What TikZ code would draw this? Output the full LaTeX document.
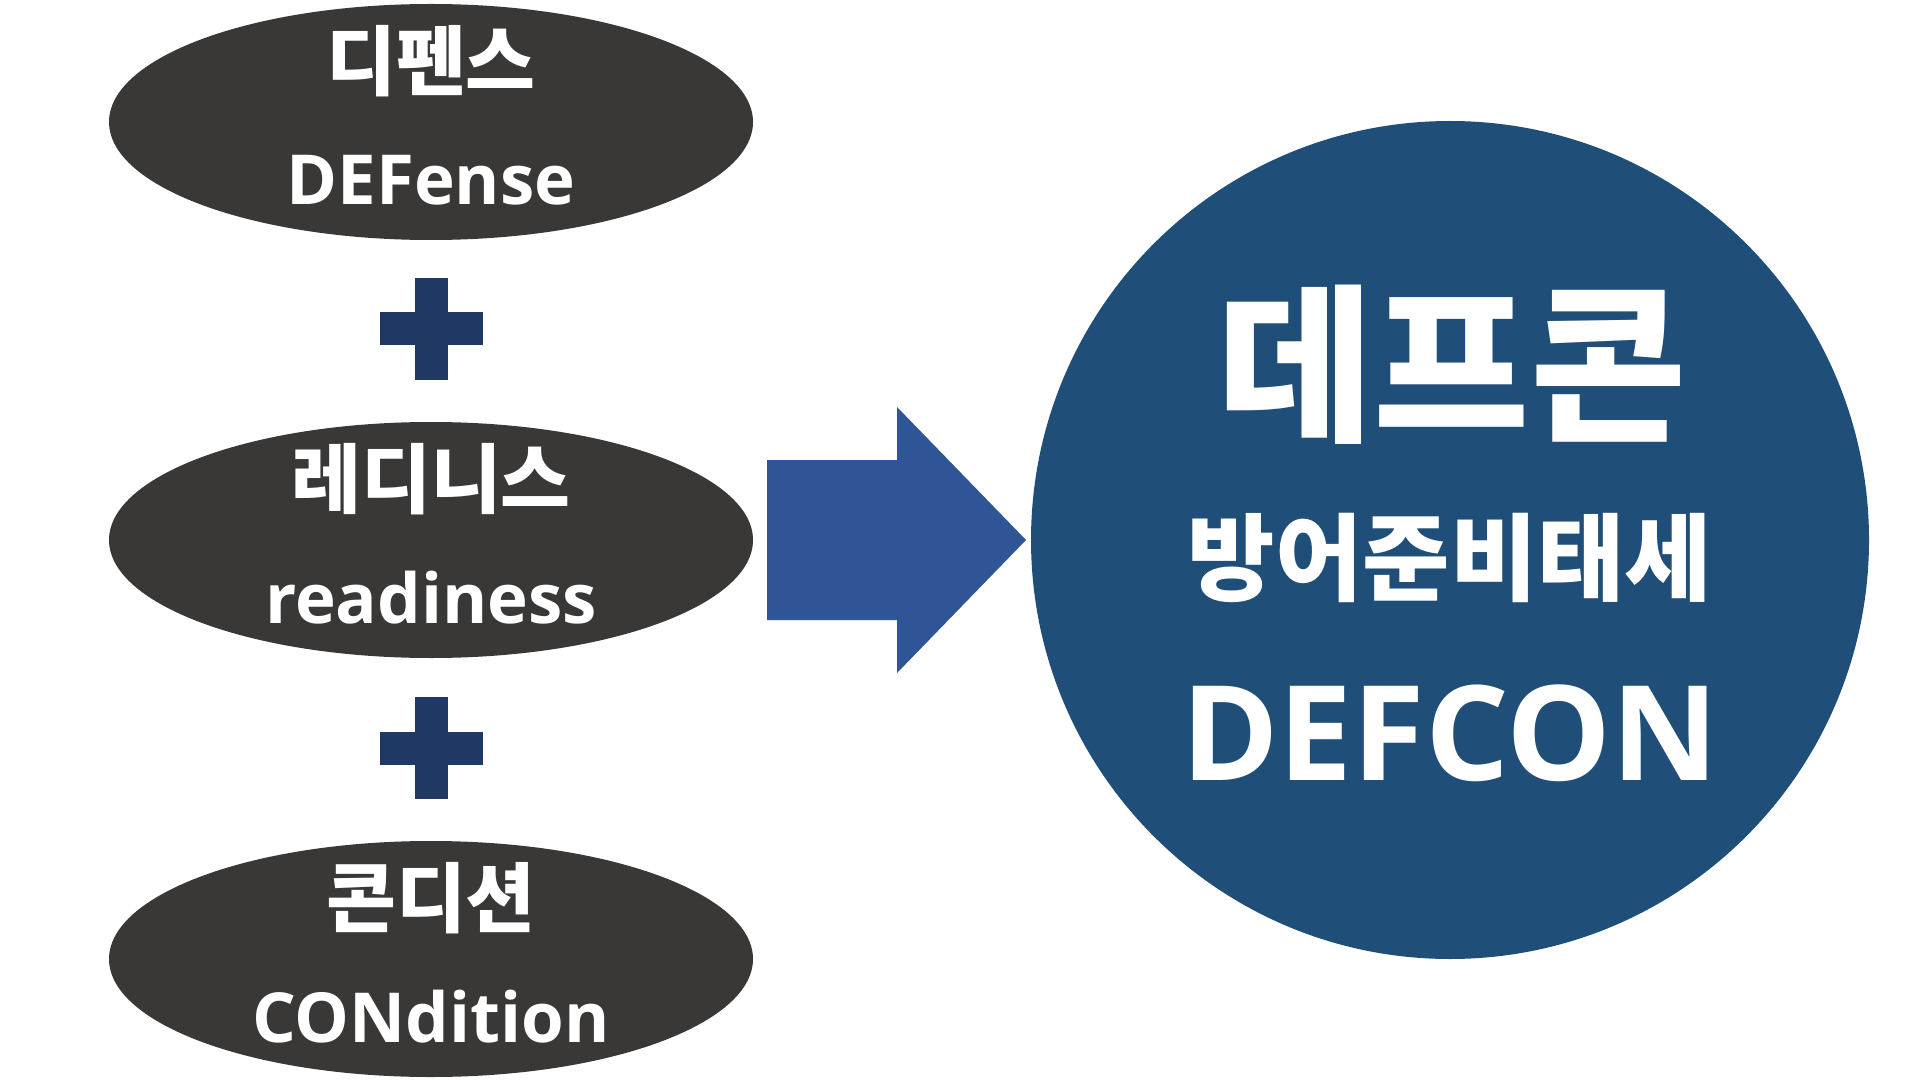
\documentclass[tikz,border=0pt]{standalone}
\usepackage{fontspec}
\setmainfont{Open Sans}
\newfontfamily\kor{Noto Sans CJK KR}
\usetikzlibrary{shapes.geometric,positioning}
\definecolor{ovalgray}{HTML}{3A3836}
\definecolor{plusblue}{HTML}{1F3864}
\definecolor{arrowblue}{HTML}{2F5597}
\definecolor{circleblue}{HTML}{1F4E79}

\begin{document}
\begin{tikzpicture}[x=0.5pt,y=-0.5pt,
  oval/.style={ellipse,fill=ovalgray,minimum width=322pt,minimum height=118pt,inner sep=0pt},
  kor/.style={text=white,font=\kor\bfseries\fontsize{38}{40}\selectfont,inner sep=0pt},
  eng/.style={text=white,font=\bfseries\fontsize{34.5}{40}\selectfont,inner sep=0pt,anchor=base}]
  \useasboundingbox (0,0) rectangle (1920,1080);
  \node[oval] (defense) at (431,122) {};
  \node[oval] (readiness) at (431,540) {};
  \node[oval] (condition) at (431,959) {};
  \node[kor] (defenseK) at ([yshift=30.5pt]defense.center) {디펜스};
  \node[eng] (defenseE) at ([yshift=-41.5pt]defense.center) {DEFense};
  \node[kor] (readinessK) at ([yshift=30.5pt]readiness.center) {레디니스};
  \node[eng] (readinessE) at ([yshift=-41.5pt]readiness.center) {readiness};
  \node[kor] (conditionK) at ([yshift=30.5pt]condition.center) {콘디션};
  \node[eng] (conditionE) at ([yshift=-41.5pt]condition.center) {CONdition};
  \foreach \y in {329,748} {
    \fill[plusblue] (414.5,\y-51) rectangle (447.5,\y+51);
    \fill[plusblue] (379.5,\y-16.5) rectangle (482.5,\y+16.5);
  }
  \fill[arrowblue] (767,460) -- (897,460) -- (897,407) -- (1026,540)
    -- (897,673) -- (897,620) -- (767,620) -- cycle;
  \node[circle,fill=circleblue,minimum size=419pt,inner sep=0pt] (defcon) at (1450,540) {};
  \node[kor,font=\kor\bfseries\fontsize{85}{90}\selectfont] (defconK) at ([xshift=1pt,yshift=87.5pt]defcon.center) {데프콘};
  \node[kor,font=\kor\bfseries\fontsize{47.5}{50}\selectfont] (defconM) at ([yshift=-9pt]defcon.center) {방어준비태세};
  \node[eng,font=\bfseries\fontsize{66}{70}\selectfont] (defconE) at ([yshift=-120pt]defcon.center) {DEFCON};
\end{tikzpicture}
\end{document}
